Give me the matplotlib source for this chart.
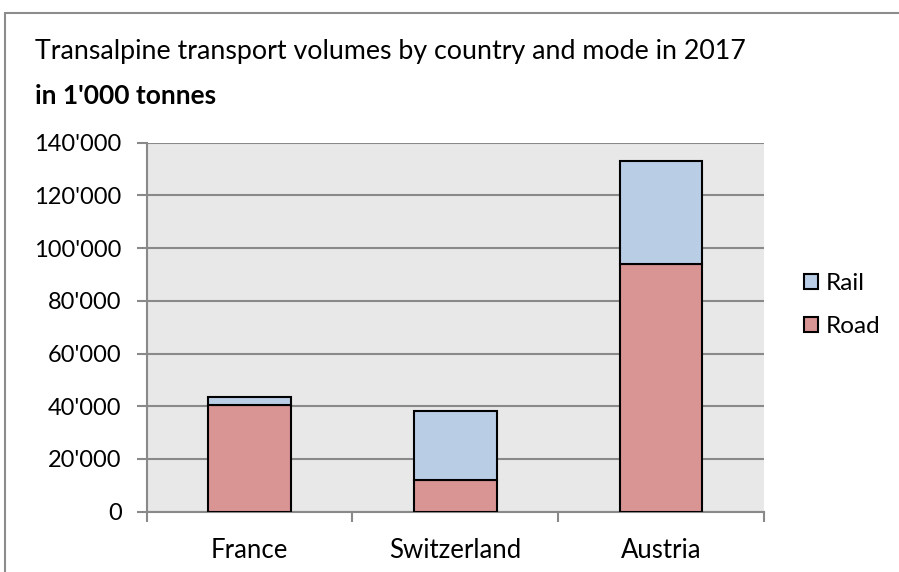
import matplotlib
matplotlib.use("Agg")
import matplotlib.pyplot as plt
from matplotlib.patches import Rectangle, Patch
from matplotlib.ticker import FuncFormatter
import numpy as np

countries = ["France", "Switzerland", "Austria"]
road = [40.5, 12.0, 93.9]   # in 1'000 tonnes (thousands)
rail = [3.1, 26.3, 39.0]
title = "Transalpine transport volumes by country and mode in 2017"
subtitle = "in 1'000 tonnes"
yticks = [0, 20, 40, 60, 80, 100, 120, 140]

plt.rcParams['font.family'] = ['Lato', 'DejaVu Sans']

fig = plt.figure(figsize=(8.99, 5.72), dpi=100)
fig.patch.set_facecolor('white')
fig.patches.append(Rectangle((5/899, -0.1), 1.2, (572-13)/572 + 0.1, transform=fig.transFigure,
                             fill=False, edgecolor='#8c8c8c', linewidth=1.5))

ax = fig.add_axes([146.7/899, (572-511.7)/572, (764-146.7)/899, (511.7-142.7)/572])
ax.set_facecolor('#E8E8E8')

x = np.arange(len(countries))
road_k = np.array(road) * 1000
rail_k = np.array(rail) * 1000
w = 0.40
ax.bar(x, road_k, w, color='#D99594', edgecolor='black', linewidth=1.5, zorder=3, label='Road')
ax.bar(x, rail_k, w, bottom=road_k, color='#B9CDE5', edgecolor='black', linewidth=1.5, zorder=3, label='Rail')

ax.set_xlim(-0.5, len(countries) - 0.5)
ax.set_ylim(0, 140000)
ax.set_yticks([v * 1000 for v in yticks])
ax.yaxis.set_major_formatter(FuncFormatter(lambda v, p: f"{int(round(v)):,}".replace(",", "'")))
ax.yaxis.grid(True, color='#898989', linewidth=1.5, zorder=1)
ax.set_axisbelow(True)

ax.set_xticks(np.arange(-0.5, len(countries), 1.0))
ax.set_xticklabels([])
ax.set_xticks(x, minor=True)
ax.set_xticklabels(countries, minor=True)
ax.tick_params(axis='x', which='major', length=7, width=1.5, color='#898989', direction='out')
ax.tick_params(axis='x', which='minor', length=0, pad=19, labelsize=18.5)
ax.tick_params(axis='y', length=7, width=1.5, color='#898989', direction='out', labelsize=17, pad=11)

for s in ['top', 'right']:
    ax.spines[s].set_visible(False)
for s in ['left', 'bottom']:
    ax.spines[s].set_color('#898989')
    ax.spines[s].set_linewidth(1.5)

fig.text(35/899, 1 - 52/572, title, fontsize=19.3, va='center', ha='left')
fig.text(35/899, 1 - 96/572, subtitle, fontsize=19, fontweight='bold', va='center', ha='left')

handles = [Patch(facecolor='#B9CDE5', edgecolor='black', linewidth=1.5, label='Rail'),
           Patch(facecolor='#D99594', edgecolor='black', linewidth=1.5, label='Road')]
fig.legend(handles=handles, loc='center left', bbox_to_anchor=(782/899, 1 - 305/572),
           frameon=False, fontsize=17.5, handlelength=0.6, handleheight=0.6,
           handletextpad=0.3, labelspacing=0.9)

fig.savefig('out.png', dpi=100)
